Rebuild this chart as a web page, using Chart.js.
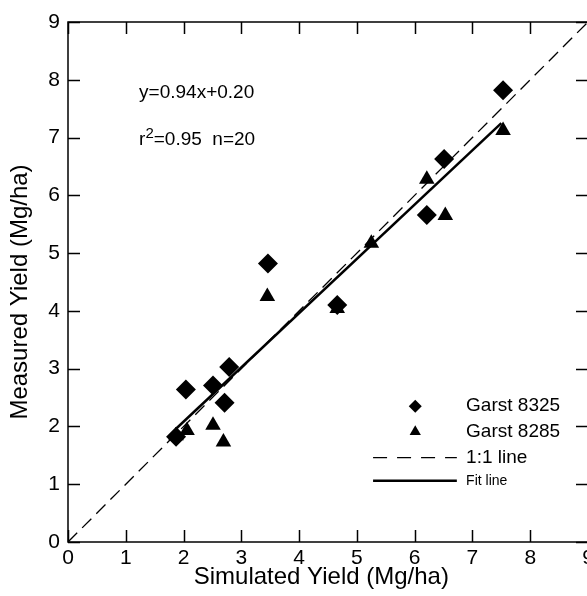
<!DOCTYPE html>
<html>
<head>
<meta charset="utf-8">
<script src="https://cdn.jsdelivr.net/npm/chart.js@4/dist/chart.umd.min.js"></script>
<style>
  html, body { margin: 0; padding: 0; background: #fff; overflow: hidden; }
  #wrap { width: 610px; height: 596px; }
</style>
</head>
<body>
<div id="wrap"><canvas id="c" width="610" height="596"></canvas></div>
<script>
// ---- data ----
const tickLabels = ['0','1','2','3','4','5','6','7','8','9'];

const garst8325X = [1.87, 2.04, 2.51, 2.71, 2.79, 3.46, 4.66, 6.21, 6.51, 7.53];
const garst8325Y = [1.82, 2.64, 2.71, 2.41, 3.03, 4.82, 4.10, 5.66, 6.63, 7.82];

const garst8285X = [1.87, 2.06, 2.51, 2.69, 3.45, 4.66, 5.25, 6.21, 6.53, 7.53];
const garst8285Y = [1.84, 1.93, 2.02, 1.73, 4.25, 4.04, 5.17, 6.28, 5.65, 7.12];

const oneToOneX = [0, 9];
const oneToOneY = [0, 9];

const fitX = [1.87, 7.50];
const fitY = [1.96, 7.25];

const seriesNames = ['Garst 8325', 'Garst 8285', '1:1 line', 'Fit line'];
const equationText = 'y=0.94x+0.20';
const statsText = ['r', '2', '=0.95  n=20'];
const xTitle = 'Simulated Yield (Mg/ha)  ';
const yTitle = 'Measured Yield (Mg/ha)   ';

const FONT = "'Liberation Sans', Arial, Helvetica, sans-serif";
const toPts = (xs, ys) => xs.map((v, i) => ({ x: v, y: ys[i] }));

const TICK = 12;

const decorPlugin = {
  id: 'decor',
  afterDatasetsDraw(chart) {
    const { ctx, chartArea: a, scales: { x, y } } = chart;
    ctx.save();
    ctx.strokeStyle = '#000';
    ctx.lineWidth = 1.5;
    ctx.setLineDash([]);
    ctx.strokeRect(a.left, a.top, a.right - a.left, a.bottom - a.top);
    ctx.beginPath();
    x.ticks.forEach(t => {
      const px = Math.round(x.getPixelForValue(t.value)) + 0.5;
      ctx.moveTo(px, a.bottom); ctx.lineTo(px, a.bottom - TICK);
      ctx.moveTo(px, a.top); ctx.lineTo(px, a.top + TICK);
    });
    y.ticks.forEach(t => {
      const py = Math.round(y.getPixelForValue(t.value)) + 0.5;
      ctx.moveTo(a.left, py); ctx.lineTo(a.left + TICK, py);
      ctx.moveTo(a.right, py); ctx.lineTo(a.right - TICK, py);
    });
    ctx.stroke();

    // annotation text
    ctx.fillStyle = '#000';
    ctx.textBaseline = 'middle';
    ctx.textAlign = 'left';
    ctx.font = '19px ' + FONT;
    const ax = x.getPixelForValue(1.23);
    ctx.fillText(equationText, ax, y.getPixelForValue(7.77));
    const ry = y.getPixelForValue(6.96);
    ctx.fillText(statsText[0], ax, ry);
    let cx = ax + ctx.measureText(statsText[0]).width;
    ctx.font = '15px ' + FONT;
    ctx.fillText(statsText[1], cx, ry - 6);
    cx += ctx.measureText(statsText[1]).width;
    ctx.font = '19px ' + FONT;
    ctx.fillText(statsText[2], cx, ry);

    // legend
    const mx = x.getPixelForValue(6.01);
    const lx0 = x.getPixelForValue(5.28), lx1 = x.getPixelForValue(6.73);
    const tx = x.getPixelForValue(6.89);
    const rows = [2.35, 1.91, 1.46, 1.06].map(v => y.getPixelForValue(v));
    // diamond
    ctx.beginPath();
    const d = 6.5;
    ctx.moveTo(mx, rows[0] - d); ctx.lineTo(mx + d, rows[0]); ctx.lineTo(mx, rows[0] + d); ctx.lineTo(mx - d, rows[0]);
    ctx.closePath(); ctx.fill();
    // triangle
    ctx.beginPath();
    const r = 6.5;
    ctx.moveTo(mx, rows[1] - r);
    ctx.lineTo(mx + r * 0.866, rows[1] + r / 2);
    ctx.lineTo(mx - r * 0.866, rows[1] + r / 2);
    ctx.closePath(); ctx.fill();
    // dashed
    ctx.lineWidth = 1.3;
    ctx.setLineDash([14, 10]);
    ctx.beginPath(); ctx.moveTo(lx0, rows[2]); ctx.lineTo(lx1, rows[2]); ctx.stroke();
    ctx.setLineDash([]);
    ctx.lineWidth = 2.5;
    ctx.beginPath(); ctx.moveTo(lx0, rows[3]); ctx.lineTo(lx1, rows[3]); ctx.stroke();

    ctx.font = '19px ' + FONT;
    ctx.fillText(seriesNames[0], tx, rows[0]);
    ctx.fillText(seriesNames[1], tx, rows[1]);
    ctx.fillText(seriesNames[2], tx, rows[2]);
    ctx.font = '14px ' + FONT;
    ctx.fillText(seriesNames[3], tx, rows[3]);
    ctx.restore();
  }
};

new Chart(document.getElementById('c'), {
  type: 'scatter',
  data: {
    datasets: [
      { label: seriesNames[2], data: toPts(oneToOneX, oneToOneY), showLine: true, borderColor: '#000',
        borderWidth: 1.3, borderDash: [13, 7], pointRadius: 0, fill: false, order: 3 },
      { label: seriesNames[3], data: toPts(fitX, fitY), showLine: true, borderColor: '#000',
        borderWidth: 2.5, pointRadius: 0, fill: false, order: 2 },
      { label: seriesNames[0], data: toPts(garst8325X, garst8325Y), pointStyle: 'rectRot', pointRadius: 10,
        backgroundColor: '#000', borderColor: '#000', borderWidth: 0, order: 1 },
      { label: seriesNames[1], data: toPts(garst8285X, garst8285Y), pointStyle: 'triangle', pointRadius: 9,
        backgroundColor: '#000', borderColor: '#000', borderWidth: 0, order: 1 }
    ]
  },
  options: {
    responsive: false,
    animation: false,
    layout: { padding: { top: 22, right: 22, left: 0, bottom: 0 } },
    plugins: { legend: { display: false }, tooltip: { enabled: false } },
    scales: {
      x: {
        type: 'linear', min: 0, max: 9,
        grid: { display: false, drawTicks: false, tickLength: 0 }, border: { display: false },
        ticks: { stepSize: 1, color: '#000', font: { family: FONT, size: 21 }, padding: 4,
                 maxRotation: 0, callback: (v) => tickLabels[v] },
        title: { display: true, text: xTitle, color: '#000', font: { family: FONT, size: 24 }, padding: { top: 0, bottom: 4 } },
        afterFit: (s) => { s.height = 54; }
      },
      y: {
        type: 'linear', min: 0, max: 9,
        grid: { display: false, drawTicks: false, tickLength: 0 }, border: { display: false },
        ticks: { stepSize: 1, color: '#000', font: { family: FONT, size: 21 }, padding: 8,
                 callback: (v) => tickLabels[v] },
        title: { display: true, text: yTitle, color: '#000', font: { family: FONT, size: 24 }, padding: { top: 6, bottom: 0 } },
        afterFit: (s) => { s.width = 68; }
      }
    }
  },
  plugins: [decorPlugin]
});
</script>
</body>
</html>
